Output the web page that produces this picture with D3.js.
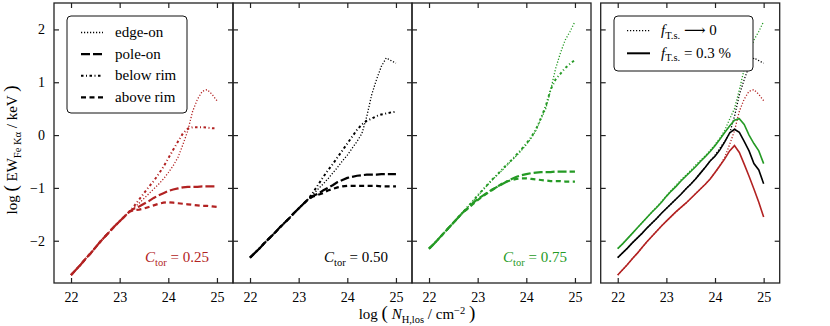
<!DOCTYPE html>
<html lang="en">
<head>
<meta charset="utf-8">
<title>Fe K-alpha equivalent width</title>
<style>
  body { margin: 0; background: #fff; }
  svg { display: block; font-family: "Liberation Serif", "DejaVu Serif", serif; }
</style>
</head>
<body>
<script src="https://cdn.jsdelivr.net/npm/d3@7"></script>
<script>
// log N_H,los grid shared by every curve
const logNH = [22.0, 22.1, 22.2, 22.3, 22.4, 22.5, 22.6, 22.7, 22.8, 22.9,
               23.0, 23.1, 23.2, 23.3, 23.4, 23.5, 23.6, 23.7, 23.8, 23.9,
               24.0, 24.1, 24.2, 24.3, 24.4, 24.5, 24.6, 24.7, 24.8, 24.9, 25.0]

// C_tor = 0.25
const edgeOn025   = [-2.65, -2.55, -2.45, -2.34, -2.24, -2.13, -2.02, -1.92, -1.82, -1.72, -1.63, -1.54, -1.45,
                     -1.37, -1.29, -1.20, -1.11, -1.02, -0.93, -0.83, -0.71, -0.58, -0.42, -0.18, 0.08, 0.45, 0.68, 0.83, 0.86, 0.77, 0.65]
const poleOn025   = [-2.65, -2.55, -2.45, -2.34, -2.24, -2.13, -2.02, -1.92, -1.82, -1.72, -1.63, -1.54, -1.45,
                     -1.39, -1.35, -1.30, -1.25, -1.19, -1.14, -1.10, -1.06, -1.03, -1.01, -0.99, -0.98, -0.98, -0.98, -0.97, -0.97, -0.97, -0.97]
const belowRim025 = [-2.65, -2.55, -2.45, -2.34, -2.24, -2.13, -2.02, -1.92, -1.82, -1.72, -1.63, -1.54, -1.45,
                     -1.34, -1.22, -1.10, -0.98, -0.87, -0.74, -0.60, -0.44, -0.28, -0.12, 0.03, 0.12, 0.15, 0.15, 0.15, 0.14, 0.13, 0.13]
const aboveRim025 = [-2.65, -2.55, -2.45, -2.34, -2.24, -2.13, -2.02, -1.92, -1.82, -1.72, -1.63, -1.54, -1.45,
                     -1.42, -1.41, -1.39, -1.36, -1.33, -1.30, -1.28, -1.27, -1.28, -1.29, -1.30, -1.31, -1.32, -1.33, -1.34, -1.34, -1.35, -1.36]

// C_tor = 0.50
const edgeOn050   = [-2.32, -2.23, -2.14, -2.04, -1.95, -1.86, -1.76, -1.67, -1.58, -1.48, -1.39, -1.30, -1.21,
                     -1.12, -1.02, -0.93, -0.83, -0.72, -0.61, -0.49, -0.38, -0.25, -0.12, 0.03, 0.35, 0.76, 1.05, 1.30, 1.46, 1.41, 1.36]
const poleOn050   = [-2.32, -2.23, -2.14, -2.04, -1.95, -1.86, -1.76, -1.67, -1.58, -1.48, -1.39, -1.30, -1.21,
                     -1.15, -1.11, -1.05, -1.00, -0.95, -0.89, -0.85, -0.81, -0.79, -0.77, -0.76, -0.75, -0.75, -0.75, -0.74, -0.74, -0.74, -0.74]
const belowRim050 = [-2.32, -2.23, -2.14, -2.04, -1.95, -1.86, -1.76, -1.67, -1.58, -1.48, -1.39, -1.30, -1.21,
                     -1.08, -0.94, -0.80, -0.67, -0.55, -0.42, -0.29, -0.16, -0.03, 0.10, 0.20, 0.27, 0.31, 0.36, 0.39, 0.41, 0.43, 0.44]
const aboveRim050 = [-2.32, -2.23, -2.14, -2.04, -1.95, -1.86, -1.76, -1.67, -1.58, -1.48, -1.39, -1.30, -1.21,
                     -1.16, -1.13, -1.10, -1.05, -1.02, -0.99, -0.97, -0.96, -0.96, -0.96, -0.96, -0.96, -0.96, -0.96, -0.97, -0.97, -0.97, -0.97]

// C_tor = 0.75
const edgeOn075   = [-2.15, -2.06, -1.96, -1.86, -1.76, -1.66, -1.56, -1.46,
                     -1.36, -1.26, -1.15, -1.05, -0.95, -0.85, -0.76, -0.67, -0.57, -0.48, -0.39, -0.29, -0.18, -0.06, 0.09, 0.30, 0.50, 0.85, 1.25, 1.55, 1.80, 1.96, 2.15]
const poleOn075   = [-2.15, -2.06, -1.96, -1.86, -1.76, -1.66, -1.56, -1.46,
                     -1.38, -1.29, -1.21, -1.15, -1.09, -1.03, -0.98, -0.93, -0.88, -0.83, -0.79, -0.76, -0.74, -0.72, -0.71, -0.70, -0.70, -0.70, -0.69, -0.69, -0.69, -0.69, -0.69]
const belowRim075 = [-2.15, -2.06, -1.96, -1.86, -1.76, -1.66, -1.56, -1.46,
                     -1.35, -1.25, -1.14, -1.04, -0.94, -0.84, -0.75, -0.65, -0.56, -0.47, -0.37, -0.27, -0.16, -0.04, 0.11, 0.32, 0.55, 0.86, 1.05, 1.16, 1.27, 1.35, 1.42]
const aboveRim075 = [-2.15, -2.06, -1.96, -1.86, -1.76, -1.66, -1.56, -1.46,
                     -1.39, -1.31, -1.23, -1.16, -1.10, -1.04, -0.98, -0.92, -0.88, -0.85, -0.83, -0.82, -0.82, -0.83, -0.84, -0.85, -0.86, -0.87, -0.87, -0.87, -0.88, -0.88, -0.88]

// edge-on with f_T.s. = 0.3 %
const scat025 = [-2.65, -2.55, -2.45, -2.34, -2.24, -2.13, -2.02, -1.92, -1.82, -1.72, -1.63, -1.54, -1.45,
                 -1.37, -1.29, -1.20, -1.11, -1.02, -0.93, -0.83, -0.71, -0.58, -0.45, -0.30, -0.20, -0.33, -0.55, -0.78, -1.02, -1.27, -1.55]
const scat050 = [-2.32, -2.23, -2.14, -2.04, -1.95, -1.86, -1.76, -1.67, -1.58, -1.48, -1.39, -1.30, -1.21,
                 -1.12, -1.02, -0.93, -0.83, -0.72, -0.61, -0.49, -0.40, -0.28, -0.13, 0.04, 0.11, 0.05, -0.12, -0.30, -0.54, -0.66, -0.92]
const scat075 = [-2.15, -2.06, -1.96, -1.86, -1.76, -1.66, -1.56, -1.46,
                 -1.37, -1.27, -1.16, -1.06, -0.97, -0.87, -0.78, -0.69, -0.60, -0.50, -0.41, -0.31, -0.20, -0.08, 0.05, 0.17, 0.28, 0.31, 0.20, 0.00, -0.16, -0.30, -0.54]

const xTicks = [22, 23, 24, 25]
const yTicks = [-2, -1, 0, 1, 2]
const torLabels = ["0.25", "0.50", "0.75"]
const viewNames = ["edge-on", "pole-on", "below rim", "above rim"]

const red = "#b22222", black = "#000", green = "#259a25"

const W = 830, H = 326
const plotTop = 3, plotH = 280, panelW = 179
const lefts = [54, 233, 412, 600.7]

const styles = [
  {width: 1.3, dash: "1.2,1.8"},
  {width: 2.2, dash: "9,3"},
  {width: 2, dash: "2.5,2.5,1,2.5"},
  {width: 2.2, dash: "5,3.5"}
]

const svg = d3.select("body").append("svg").attr("width", W).attr("height", H)

const y = d3.scaleLinear().domain([-2.8, 2.5]).range([plotTop + plotH, plotTop])

// draw text made of pieces: {t, it, sub, sup, size}
function rich(sel, parts, base) {
  let shift = 0
  parts.forEach(p => {
    const target = p.sub ? 3.5 : p.sup ? -5 : 0
    const ts = sel.append("tspan").text(p.t).attr("dy", target - shift)
    if (p.it) ts.attr("font-style", "italic")
    ts.attr("font-size", p.size || ((p.sub || p.sup) ? base * 0.7 : base))
    shift = target
  })
}

function panel(i) {
  const left = lefts[i]
  const x = d3.scaleLinear().domain([21.65, 25.33]).range([left, left + panelW])
  const g = svg.append("g")

  const ax = (axis, tr, labels) => {
    const a = g.append("g").attr("transform", tr).call(axis)
    a.select(".domain").remove()
    a.selectAll("line").attr("stroke", "#222").attr("stroke-width", 1.2)
    a.attr("font-family", null).attr("font-size", 14)
    if (!labels) a.selectAll("text").remove()
    return a
  }
  ax(d3.axisBottom(x).tickValues(xTicks).tickSize(-5).tickPadding(9).tickFormat(d3.format("d")),
     `translate(0,${plotTop + plotH})`, true)
  ax(d3.axisTop(x).tickValues(xTicks).tickSize(-5), `translate(0,${plotTop})`, false)
  ax(d3.axisLeft(y).tickValues(yTicks).tickSize(-5).tickPadding(9).tickFormat(d3.format("d")),
     `translate(${left},0)`, i === 0)
  ax(d3.axisRight(y).tickValues(yTicks).tickSize(-5), `translate(${left + panelW},0)`, false)

  return {g, x}
}

function curve(g, x, vals, color, st) {
  g.append("path")
    .datum(vals)
    .attr("d", d3.line().x((d, k) => x(logNH[k])).y(d => y(d)))
    .attr("fill", "none")
    .attr("stroke", color)
    .attr("stroke-width", st.width)
    .attr("stroke-dasharray", st.dash || null)
}

const sets = [
  {color: red, lines: [edgeOn025, poleOn025, belowRim025, aboveRim025]},
  {color: black, lines: [edgeOn050, poleOn050, belowRim050, aboveRim050]},
  {color: green, lines: [edgeOn075, poleOn075, belowRim075, aboveRim075]}
]

sets.forEach((s, i) => {
  const {g, x} = panel(i)
  s.lines.forEach((vals, j) => curve(g, x, vals, s.color, styles[j]))
  const t = g.append("text")
    .attr("x", lefts[i] + 155).attr("y", 262)
    .attr("text-anchor", "end").attr("fill", s.color)
  rich(t, [{t: "C", it: true}, {t: "tor", sub: true}, {t: " = " + torLabels[i]}], 15)
})

// last panel: f_T.s. -> 0 (dotted) against f_T.s. = 0.3 % (solid)
{
  const {g, x} = panel(3)
  sets.forEach(s => curve(g, x, s.lines[0], s.color, styles[0]))
  ;[scat025, scat050, scat075].forEach((vals, j) =>
    curve(g, x, vals, sets[j].color, {width: 1.6}))
}

lefts.forEach(left => {
  svg.append("rect").attr("x", left).attr("y", plotTop).attr("width", panelW).attr("height", plotH)
    .attr("fill", "none").attr("stroke", "#222").attr("stroke-width", 1.3)
})

// legend, first panel
const leg1 = svg.append("g")
leg1.append("rect").attr("x", 67).attr("y", 16).attr("width", 120).attr("height", 97).attr("rx", 4)
  .attr("fill", "#fff").attr("stroke", "#111").attr("stroke-width", 1)
viewNames.forEach((name, j) => {
  const yy = 32.5 + j * 21.6
  leg1.append("line").attr("x1", 81).attr("x2", 103).attr("y1", yy).attr("y2", yy)
    .attr("stroke", "#000").attr("stroke-width", styles[j].width).attr("stroke-dasharray", styles[j].dash)
  leg1.append("text").attr("x", 115).attr("y", yy + 4.5).attr("font-size", 15).text(name)
})

// legend, last panel
const leg2 = svg.append("g")
leg2.append("rect").attr("x", 614).attr("y", 16).attr("width", 139).attr("height", 55).attr("rx", 4)
  .attr("fill", "#fff").attr("stroke", "#111").attr("stroke-width", 1)
const legRows = [
  {st: styles[0], parts: [{t: "f", it: true}, {t: "T.s.", sub: true}, {t: " ⟶ 0"}]},
  {st: {width: 2}, parts: [{t: "f", it: true}, {t: "T.s.", sub: true}, {t: " = 0.3 %"}]}
]
legRows.forEach((r, j) => {
  const yy = 30.7 + j * 22.6
  leg2.append("line").attr("x1", 627).attr("x2", 650).attr("y1", yy).attr("y2", yy)
    .attr("stroke", "#000").attr("stroke-width", r.st.width).attr("stroke-dasharray", r.st.dash || null)
  const t = leg2.append("text").attr("x", 661).attr("y", yy + 4.5)
  rich(t, r.parts, 15)
})

// axis titles
const yl = svg.append("text").attr("text-anchor", "middle")
  .attr("transform", "translate(17,150) rotate(-90)")
rich(yl, [{t: "log "}, {t: "(", size: 19}, {t: " EW"}, {t: "Fe Kα", sub: true}, {t: " / keV "}, {t: ")", size: 19}], 15)

const xl = svg.append("text").attr("text-anchor", "middle").attr("x", 417).attr("y", 319)
rich(xl, [{t: "log "}, {t: "(", size: 19}, {t: " N", it: true}, {t: "H,los", sub: true}, {t: " / cm"}, {t: "−2", sup: true}, {t: " "}, {t: ")", size: 19}], 15)
</script>
</body>
</html>
